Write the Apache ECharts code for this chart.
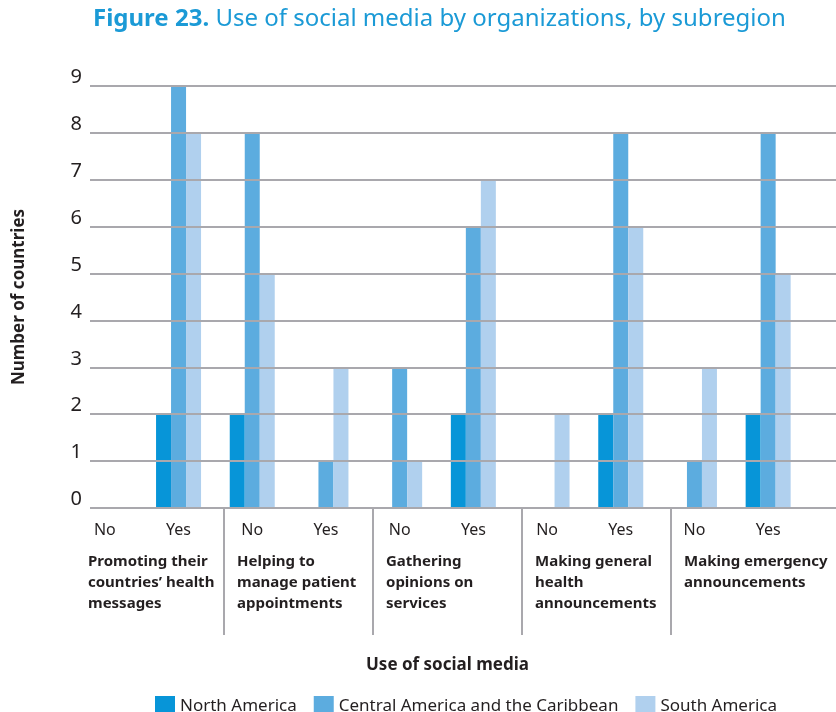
<!DOCTYPE html>
<html>
<head>
    <meta charset="utf-8">
    <script src="https://cdn.jsdelivr.net/npm/echarts@6/dist/echarts.min.js"></script>
    <style>
        html, body { margin: 0; padding: 0; background: #fff; }
        #chart { width: 836px; height: 712px; }
    </style>
</head>
<body>
<div id="chart"></div>
<script>
    // answers per use, "No" and "Yes" for each
    var answers = ['No', 'Yes', 'No', 'Yes', 'No', 'Yes', 'No', 'Yes', 'No', 'Yes'];
    var uses = [
        'Promoting their\ncountries\u2019 health\nmessages',
        'Helping to\nmanage patient\nappointments',
        'Gathering\nopinions on\nservices',
        'Making general\nhealth\nannouncements',
        'Making emergency\nannouncements'
    ];
    var northAmerica = [0, 2, 2, 0, 0, 2, 0, 2, 0, 2];
    var centralAmerica = [0, 9, 8, 1, 3, 6, 0, 8, 1, 8];
    var southAmerica = [0, 8, 5, 3, 1, 7, 2, 6, 3, 5];
    var yMin = 0, yMax = 9, yStep = 1;

    var gridColor = '#a9a8ad';
    var textColor = '#231f20';
    var font = 'Noto Sans';

    var chart = echarts.init(document.getElementById('chart'));

    //三个grid: 0 = 坐标轴和网格线, 1 = 柱子, 2 = 分组标签
    chart.setOption({
        textStyle: { fontFamily: font },
        title: {
            left: 88,
            top: 2,
            text: '{b|Figure 23.} Use of social media by organizations, by subregion',
            textStyle: {
                fontSize: 24,
                fontWeight: 'normal',
                color: '#1b9ad6',
                fontFamily: font,
                rich: {
                    b: { fontSize: 24, fontWeight: 'bold', color: '#1b9ad6', fontFamily: font }
                }
            }
        },
        legend: {
            left: 150,
            top: 691,
            icon: 'rect',
            itemWidth: 20,
            itemHeight: 20,
            itemGap: 17,
            textStyle: { fontSize: 17, color: textColor, fontFamily: font },
            data: ['North America', 'Central America and the Caribbean', 'South America']
        },
        grid: [
            { left: 90, right: 0, top: 86, bottom: 204 },
            { left: 68, right: 31, top: 86, bottom: 204 },
            { left: 75, right: 16, top: 86, bottom: 204 }
        ],
        xAxis: [
            {
                gridIndex: 0,
                type: 'category',
                data: answers,
                axisLine: { show: false },
                axisTick: { show: false },
                axisLabel: { show: false }
            },
            {
                gridIndex: 1,
                type: 'category',
                data: answers,
                axisLine: { show: false },
                axisTick: { show: false },
                axisLabel: { interval: 0, fontSize: 16, color: textColor, margin: 14 }
            },
            {
                gridIndex: 2,
                type: 'category',
                data: uses.concat(['']),
                boundaryGap: false,
                axisLine: { show: false },
                axisTick: {
                    show: true,
                    length: 127,
                    interval: function (index) { return index > 0 && index < uses.length; },
                    lineStyle: { color: gridColor, width: 2 }
                },
                axisLabel: {
                    interval: 0,
                    align: 'left',
                    verticalAlign: 'top',
                    padding: [0, 0, 0, 13],
                    margin: 43,
                    fontSize: 15,
                    lineHeight: 21,
                    fontWeight: 'bold',
                    color: textColor
                },
                name: 'Use of social media',
                nameLocation: 'middle',
                nameGap: 149,
                nameTextStyle: { fontSize: 17, fontWeight: 'bold', color: textColor }
            }
        ],
        yAxis: [
            {
                gridIndex: 0,
                type: 'value',
                min: yMin,
                max: yMax,
                interval: yStep,
                z: 10,
                axisLine: { show: false },
                axisTick: { show: false },
                splitLine: { lineStyle: { color: gridColor, width: 2 } },
                axisLabel: {
                    fontSize: 20,
                    color: textColor,
                    margin: 8,
                    verticalAlign: 'bottom',
                    lineHeight: 17
                },
                name: 'Number of countries',
                nameLocation: 'middle',
                nameGap: 62,
                nameTextStyle: { fontSize: 17, fontWeight: 'bold', color: textColor }
            },
            { gridIndex: 1, type: 'value', min: yMin, max: yMax, interval: yStep, show: false },
            { gridIndex: 2, type: 'value', min: yMin, max: yMax, show: false }
        ],
        series: [
            {
                name: 'North America',
                type: 'bar',
                xAxisIndex: 1,
                yAxisIndex: 1,
                barWidth: 15,
                barGap: '0%',
                itemStyle: { color: '#0795d8' },
                data: northAmerica
            },
            {
                name: 'Central America and the Caribbean',
                type: 'bar',
                xAxisIndex: 1,
                yAxisIndex: 1,
                barWidth: 15,
                barGap: '0%',
                itemStyle: { color: '#5cacdf' },
                data: centralAmerica
            },
            {
                name: 'South America',
                type: 'bar',
                xAxisIndex: 1,
                yAxisIndex: 1,
                barWidth: 15,
                barGap: '0%',
                itemStyle: { color: '#b0d0ee' },
                data: southAmerica
            }
        ]
    });
</script>
</body>
</html>
